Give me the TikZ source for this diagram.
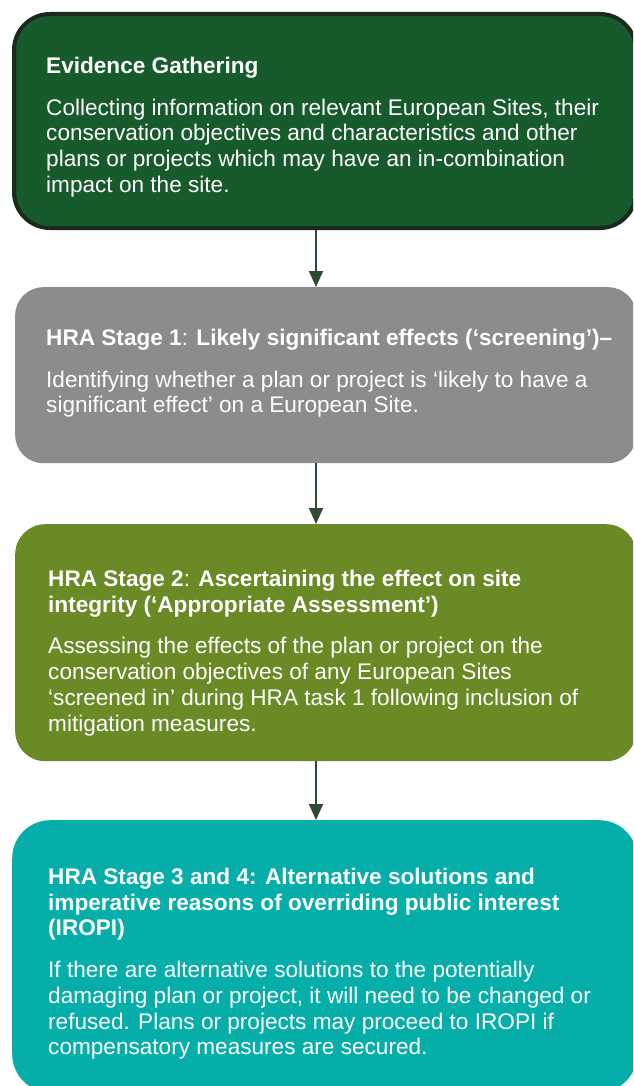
\documentclass[tikz,border=0pt]{standalone}
\usepackage{fontspec}
\setmainfont{Liberation Sans}
\usetikzlibrary{arrows.meta,positioning}

\definecolor{evidencegreen}{HTML}{175A2C}
\definecolor{evidenceedge}{HTML}{1B2A1D}
\definecolor{screengrey}{HTML}{8C8C8C}
\definecolor{aagreen}{HTML}{6A8A26}
\definecolor{iropiteal}{HTML}{06AEAA}
\definecolor{flowarrow}{HTML}{2E4A34}

\tikzset{
  stage/.style={rounded corners=30pt, anchor=north west, inner sep=0pt, minimum width=621pt},
  stagetext/.style={anchor=north west, inner sep=0pt, align=left, text=white,
    font=\fontsize{22.6}{25.7}\selectfont},
  flow/.style={draw=flowarrow, line width=1.8pt, -{Triangle[width=14pt,length=16pt]}}
}

\begin{document}
\begin{tikzpicture}[x=1pt,y=1pt]
  \clip (0,0) rectangle (633,-1086);

  % the four stages
  \node[stage, fill=evidencegreen, draw=evidenceedge, line width=4pt,
        rounded corners=36pt, minimum height=214pt, minimum width=622pt] (evidence) at (12,-12) {};
  \node[stage, fill=screengrey, rounded corners=28pt, minimum height=176pt] (screening) at (15,-287) {};
  \node[stage, fill=aagreen, minimum height=237pt] (appropriate) at (15,-524) {};
  \node[stage, fill=iropiteal, rounded corners=38pt, minimum height=272pt,
        minimum width=625pt] (iropi) at (12,-820) {};

  \node[stagetext] (evidence text) at (46,-57) {%
    \textbf{Evidence Gathering}\\[16pt]
    Collecting information on relevant European Sites, their\\
    conservation objectives and characteristics and other\\
    plans or projects which may have an in-combination\\
    impact on the site.};
  \node[stagetext] (screening text) at (46,-329) {%
    \textbf{HRA Stage 1}: \textbf{Likely significant effects (‘screening’)–}\\[16pt]
    Identifying whether a plan or project is ‘likely to have a\\
    significant effect’ on a European Site.};
  \node[stagetext] (appropriate text) at (48,-570) {%
    \textbf{HRA Stage 2}: \textbf{Ascertaining the effect on site}\\
    \textbf{integrity (‘Appropriate Assessment’)}\\[16pt]
    Assessing the effects of the plan or project on the\\
    conservation objectives of any European Sites\\
    ‘screened in’ during HRA task 1 following inclusion of\\
    mitigation measures.};
  \node[stagetext] (iropi text) at (48,-868) {%
    \textbf{HRA Stage 3 and 4: Alternative solutions and}\\
    \textbf{imperative reasons of overriding public interest}\\
    \textbf{(IROPI)}\\[16pt]
    If there are alternative solutions to the potentially\\
    damaging plan or project, it will need to be changed or\\
    refused. Plans or projects may proceed to IROPI if\\
    compensatory measures are secured.};

  % arrows down the middle
  \coordinate (spine) at (316,0);
  \draw[flow] (spine |- evidence.south) -- (spine |- screening.north);
  \draw[flow] (spine |- screening.south) -- (spine |- appropriate.north);
  \draw[flow] (spine |- appropriate.south) -- (spine |- iropi.north);
\end{tikzpicture}
\end{document}
